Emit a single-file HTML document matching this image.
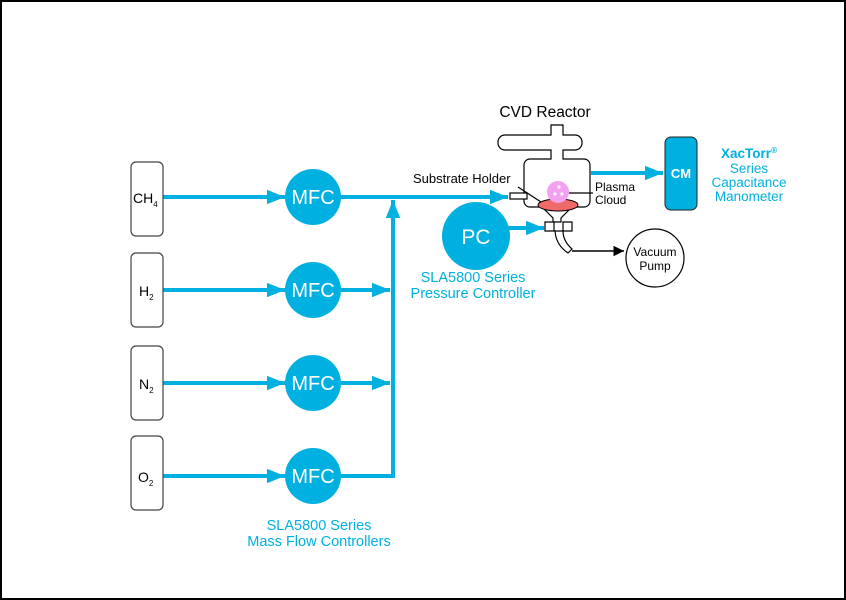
<!DOCTYPE html>
<html><head><style>
html,body{margin:0;padding:0;background:#fff}
svg{display:block}
text{font-family:"Liberation Sans",sans-serif}
</style></head><body>
<svg width="846" height="600" viewBox="0 0 846 600" xmlns="http://www.w3.org/2000/svg">
<defs>
<marker id="a" viewBox="0 0 10 10" refX="10" refY="5" markerWidth="4.5" markerHeight="3.6" orient="auto" markerUnits="strokeWidth" preserveAspectRatio="none"><path d="M0,0 L10,5 L0,10 z" fill="#00b0e0"/></marker>
<marker id="k" viewBox="0 0 10 10" refX="10" refY="5" markerWidth="7" markerHeight="7" orient="auto" markerUnits="strokeWidth"><path d="M0,0 L10,5 L0,10 z" fill="#000"/></marker>
</defs>
<rect x="1" y="1" width="844" height="598" fill="#fff" stroke="#000" stroke-width="2"/>
<g stroke="#00b0e0" stroke-width="4" fill="none">
<line x1="163" y1="197" x2="285" y2="197" marker-end="url(#a)"/>
<line x1="163" y1="290" x2="285" y2="290" marker-end="url(#a)"/>
<line x1="163" y1="383" x2="285" y2="383" marker-end="url(#a)"/>
<line x1="163" y1="476" x2="285" y2="476" marker-end="url(#a)"/>
<line x1="340" y1="197" x2="508" y2="197" marker-end="url(#a)"/>
<line x1="340" y1="290" x2="390" y2="290" marker-end="url(#a)"/>
<line x1="340" y1="383" x2="390" y2="383" marker-end="url(#a)"/>
<line x1="340" y1="476" x2="393" y2="476"/>
<line x1="393" y1="478" x2="393" y2="200" marker-end="url(#a)"/>
<line x1="508" y1="228" x2="544" y2="228" marker-end="url(#a)"/>
<line x1="591" y1="173" x2="663" y2="173" marker-end="url(#a)"/>
</g>
<g stroke="#444" stroke-width="1.2" fill="#fff">
<rect x="131" y="162" width="32" height="74" rx="5"/>
<rect x="131" y="253" width="32" height="74" rx="5"/>
<rect x="131" y="346" width="32" height="74" rx="5"/>
<rect x="131" y="436" width="32" height="74" rx="5"/>
</g>
<g font-size="14" fill="#000">
<text x="133" y="203">CH<tspan font-size="8" dy="4">4</tspan></text>
<text x="139" y="296">H<tspan font-size="8" dy="4">2</tspan></text>
<text x="139" y="389">N<tspan font-size="8" dy="4">2</tspan></text>
<text x="138" y="482">O<tspan font-size="8" dy="4">2</tspan></text>
</g>
<g fill="#00b0e0">
<circle cx="313" cy="197" r="28"/><circle cx="313" cy="290" r="28"/>
<circle cx="313" cy="383" r="28"/><circle cx="313" cy="476" r="28"/>
<circle cx="476" cy="236" r="34"/>
<rect x="665" y="137" width="32" height="73" rx="6" stroke="#222" stroke-width="1"/>
</g>
<g fill="#fff" font-size="20" text-anchor="middle">
<text x="313" y="204">MFC</text><text x="313" y="297">MFC</text>
<text x="313" y="390">MFC</text><text x="313" y="483">MFC</text>
<text x="476" y="244" font-size="21">PC</text>
<text x="681" y="178" font-size="13" font-weight="bold">CM</text>
</g>
<g fill="#00b0e0" font-size="14.5" text-anchor="middle">
<text x="319" y="530">SLA5800 Series</text>
<text x="319" y="546">Mass Flow Controllers</text>
<text x="473" y="282">SLA5800 Series</text>
<text x="473" y="298">Pressure Controller</text>
<text x="749" y="158" font-weight="bold" font-size="13.5">XacTorr<tspan font-size="8" dy="-5">®</tspan></text>
<text x="749" y="173" font-size="13.5">Series</text>
<text x="749" y="187" font-size="13.5">Capacitance</text>
<text x="749" y="201" font-size="13.5">Manometer</text>
</g>
<!-- reactor -->
<g stroke="#000" stroke-width="1.2" fill="#fff">
<path d="M551,125 h12 v10 h12 a7,7 0 0 1 7,7 v1 a7,7 0 0 1 -7,7 h-12 v9 h21 a6,6 0 0 1 6,6 v36 a6,6 0 0 1 -6,6 h-12 l-11,11 v4 h-8 v-4 l-11,-11 h-12 a6,6 0 0 1 -6,-6 v-36 a6,6 0 0 1 6,-6 h21 v-9 h-46 a7,7 0 0 1 -7,-7 v-1 a7,7 0 0 1 7,-7 h46 z"/>
<rect x="510" y="193" width="17" height="6"/>
<path d="M545,222 h9 v9 h-9 z M563,222 h9 v9 h-9 z"/>
<path d="M555,231 q1,14 13,22 l4,-4 q-9,-8 -9,-18 z"/>
</g>
<ellipse cx="558" cy="205" rx="20" ry="6" fill="#f06a6a" stroke="#000" stroke-width="1"/>
<circle cx="558" cy="192" r="11" fill="#f4a0f0"/>
<circle cx="559" cy="187" r="1.6" fill="#fff"/><circle cx="555" cy="194" r="1.6" fill="#fff"/><circle cx="562" cy="194" r="1.6" fill="#fff"/>
<line x1="518" y1="187" x2="541" y2="202" stroke="#000" stroke-width="1.3"/>
<line x1="569" y1="193" x2="593" y2="193" stroke="#000" stroke-width="1.3"/>
<line x1="572" y1="251" x2="624" y2="251" stroke="#000" stroke-width="1.5" marker-end="url(#k)"/>
<circle cx="655" cy="258" r="29" fill="#fff" stroke="#000" stroke-width="1.2"/>
<g font-size="12" fill="#000">
<text x="655" y="256" text-anchor="middle">Vacuum</text>
<text x="655" y="270" text-anchor="middle">Pump</text>
<text x="413" y="183" font-size="13">Substrate Holder</text>
<text x="595" y="191">Plasma</text>
<text x="595" y="204">Cloud</text>
<text x="545" y="117" font-size="15.5" text-anchor="middle">CVD Reactor</text>
</g>
</svg>
</body></html>
